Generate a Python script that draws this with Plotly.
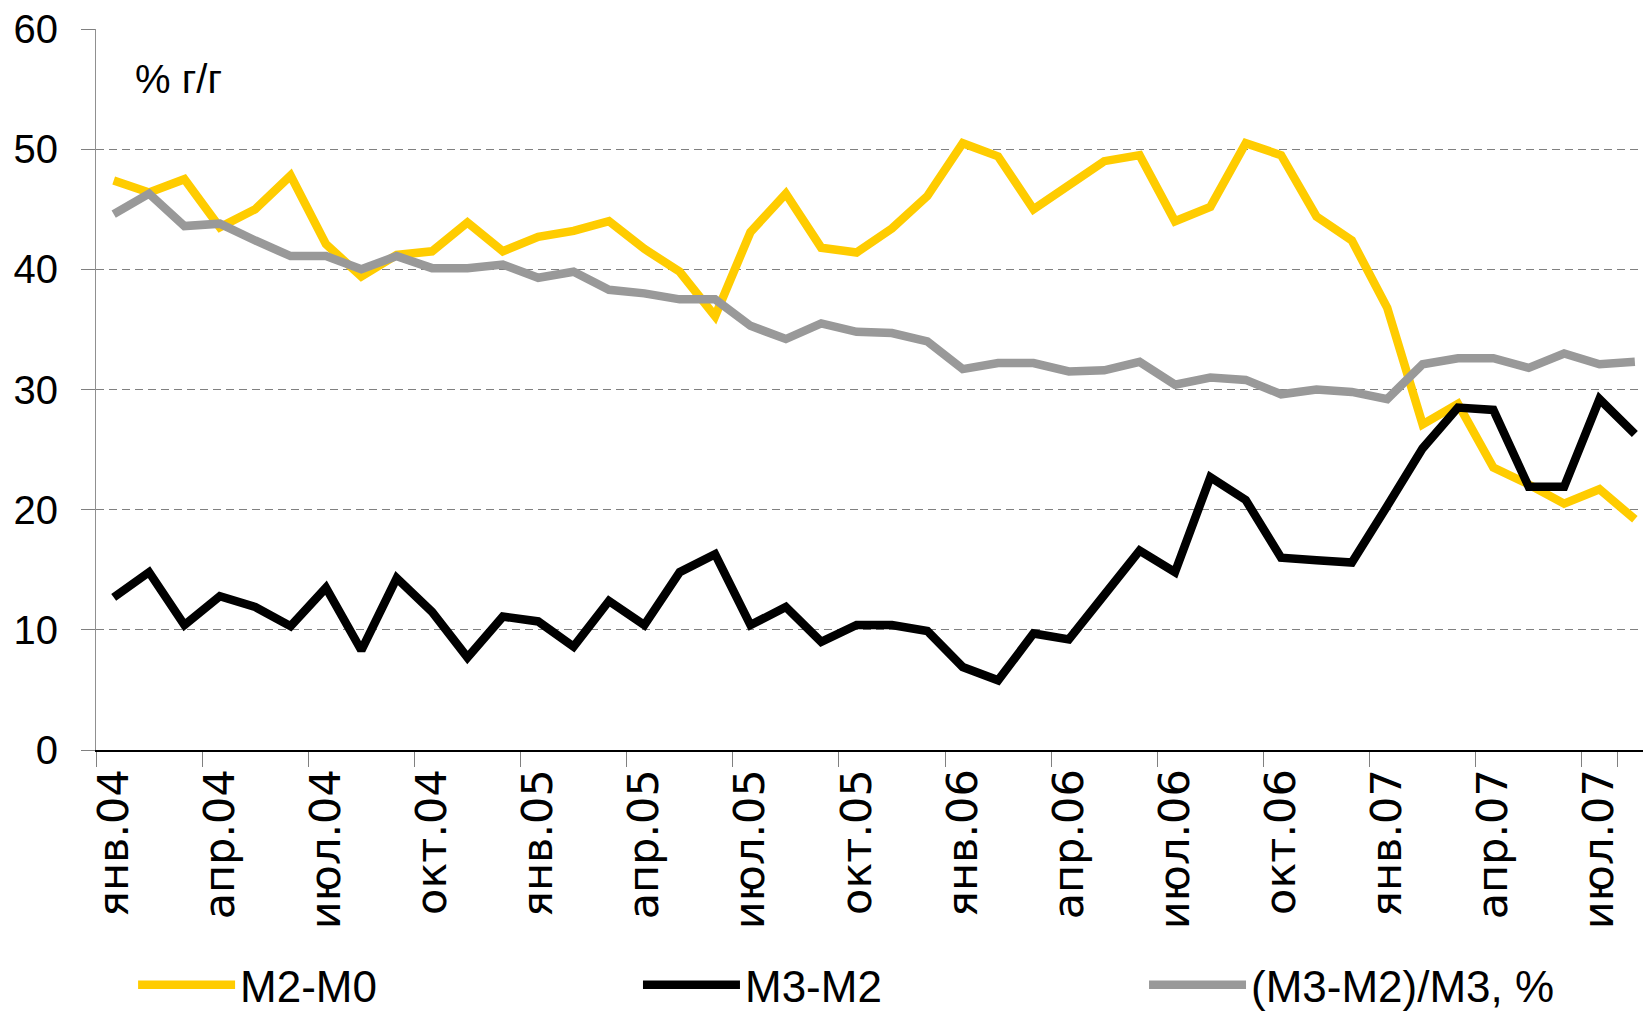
import plotly.graph_objects as go

month_names = ["янв", "фев", "мар", "апр", "май", "июн", "июл", "авг", "сен", "окт", "ноя", "дек"]
years = ["04", "05", "06", "07"]
months = [f"{m}.{y}" for y in years for m in month_names][:44]

m2_m0 = [47.4, 46.4, 47.5, 43.5, 45.0, 47.8, 42.1, 39.4, 41.2, 41.5,
         43.9, 41.5, 42.7, 43.2, 44.0, 41.7, 39.8, 36.1, 43.1, 46.3,
         41.8, 41.4, 43.4, 46.1, 50.5, 49.4, 45.0, 47.1, 49.0, 49.5,
         44.0, 45.2, 50.5, 49.5, 44.4, 42.4, 36.8, 27.1, 28.8, 23.5,
         22.1, 20.5, 21.7, 19.2]
m3_m2 = [12.7, 14.8, 10.4, 12.8, 11.9, 10.3, 13.5, 8.3, 14.3, 11.5,
         7.7, 11.1, 10.7, 8.6, 12.4, 10.4, 14.8, 16.3, 10.4, 11.9,
         9.0, 10.4, 10.4, 9.9, 6.9, 5.8, 9.7, 9.2, 12.9, 16.6,
         14.8, 22.7, 20.8, 16.0, 15.8, 15.6, 20.3, 25.1, 28.5, 28.3,
         21.9, 21.9, 29.2, 26.3]
share = [44.6, 46.3, 43.6, 43.8, 42.4, 41.1, 41.1, 40.0, 41.1, 40.1,
         40.1, 40.4, 39.3, 39.8, 38.3, 38.0, 37.5, 37.5, 35.3, 34.2,
         35.5, 34.8, 34.7, 34.0, 31.7, 32.2, 32.2, 31.5, 31.6, 32.3,
         30.4, 31.0, 30.8, 29.6, 30.0, 29.8, 29.2, 32.1, 32.6, 32.6,
         31.8, 33.0, 32.1, 32.3]

series_names = ["M2-M0", "M3-M2", "(M3-M2)/M3, %"]
colors = ["#FFCC00", "#000000", "#999999"]
legend_ids = ["legend", "legend2", "legend3"]
legend_x = [0.081, 0.3883, 0.6963]
tick_labels = months[::3]
y_ticks = [0, 10, 20, 30, 40, 50, 60]

FONT = "Liberation Sans, Arial, sans-serif"

fig = go.Figure()
for name, vals, col, lg in zip(series_names, [m2_m0, m3_m2, share], colors, legend_ids):
    fig.add_trace(go.Scatter(x=months, y=vals, mode="lines", name=name, legend=lg,
                             line=dict(color=col, width=8.5)))

legends = {}
for lg, lx in zip(legend_ids, legend_x):
    legends[lg] = dict(orientation="h", xref="container", yref="container",
                       x=lx, y=0.0295, xanchor="left", yanchor="middle",
                       font=dict(size=44, family=FONT), itemwidth=97,
                       bgcolor="rgba(0,0,0,0)")

fig.update_layout(
    width=1643, height=1015,
    margin=dict(l=96, r=0, t=29, b=265),
    paper_bgcolor="white", plot_bgcolor="white",
    font=dict(family=FONT, color="black"),
    showlegend=True,
    xaxis=dict(type="category", categoryorder="array", categoryarray=months,
               range=[-0.5, 43.23], tickmode="array", tickvals=tick_labels,
               ticktext=tick_labels, tickson="boundaries", tickangle=-90,
               ticks="outside", ticklen=15, tickcolor="#808080", tickwidth=1,
               showgrid=False, showline=True, linecolor="black", linewidth=2,
               tickfont=dict(size=43, family="DejaVu Sans, sans-serif"),
               zeroline=False, automargin=False),
    yaxis=dict(range=[0, 60], tickvals=y_ticks, ticks="outside", ticklen=14,
               tickcolor="#808080", tickwidth=1, showline=True, linecolor="#909090",
               linewidth=1, showgrid=True, gridcolor="#808080", gridwidth=1,
               griddash="8px,5px", zeroline=False, tickfont=dict(size=40, family=FONT),
               ticklabelstandoff=15, automargin=False),
    annotations=[dict(text="% г/г", xref="paper", yref="paper", x=0.024, y=0.930,
                      xanchor="left", yanchor="middle", showarrow=False,
                      font=dict(size=40, family=FONT))],
    **legends,
)

post = "document.body.style.margin='0';document.body.style.overflow='hidden';"
fig.write_html("out.html", post_script=post, config={"displayModeBar": False})
